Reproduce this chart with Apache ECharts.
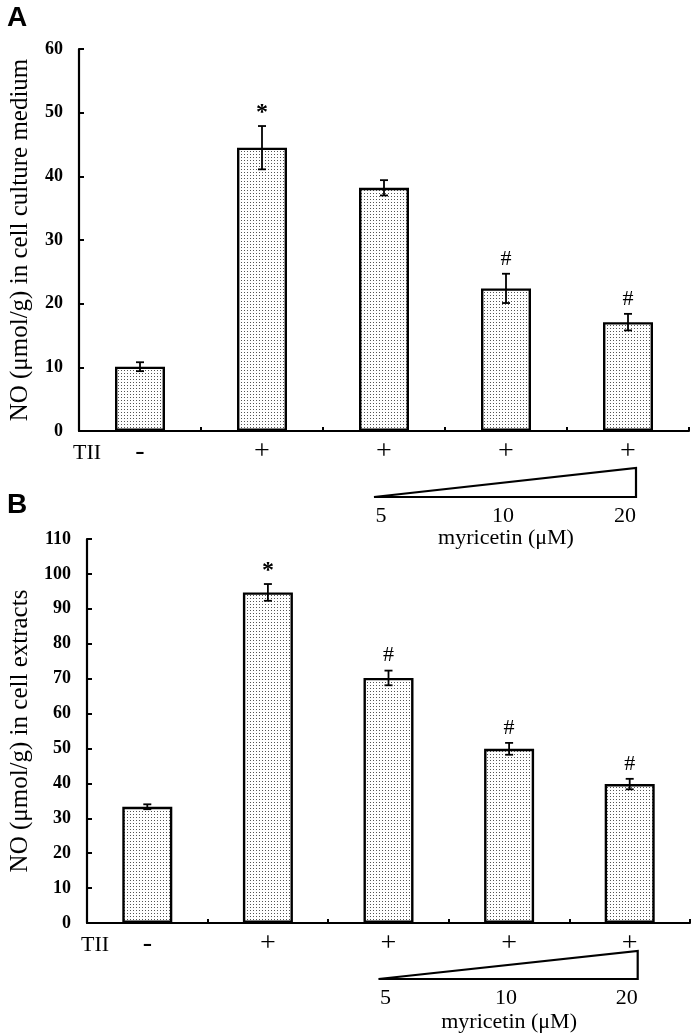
<!DOCTYPE html>
<html>
<head>
<meta charset="utf-8">
<script src="https://cdn.jsdelivr.net/npm/echarts@6/dist/echarts.min.js"></script>
<style>
html,body{margin:0;padding:0;background:#fff;}
#chart{width:693px;height:1033px;}
</style>
</head>
<body>
<div id="chart"></div>
<script>
const categories = ['c1', 'c2', 'c3', 'c4', 'c5'];
const tiiLabels = ['-', '+', '+', '+', '+'];
const doseLabels = ['', '', '5', '10', '20'];

const valuesA = [10.1, 44.5, 38.2, 22.4, 17.1];
const errorsA = [0.7, 3.4, 1.2, 2.3, 1.3];
const marksA = ['', '*', '', '#', '#'];

const valuesB = [33.3, 94.7, 70.2, 49.9, 39.8];
const errorsB = [0.7, 2.4, 2.1, 1.7, 1.5];
const marksB = ['', '*', '#', '#', '#'];

const yMaxA = 60, yMaxB = 110, yStep = 10;
const yNameA = 'NO (μmol/g) in cell culture medium';
const yNameB = 'NO (μmol/g) in cell extracts';

const SERIF = "'Liberation Serif', 'Times New Roman', serif";

// stipple pattern
const pc = document.createElement('canvas');
pc.width = 3; pc.height = 3;
const pctx = pc.getContext('2d');
pctx.fillStyle = '#ffffff'; pctx.fillRect(0, 0, 3, 3);
pctx.fillStyle = '#555555'; pctx.fillRect(1, 1, 1, 1);
const pattern = { image: pc, repeat: 'repeat' };

const chart = echarts.init(document.getElementById('chart'), null, { renderer: 'canvas' });

function xAxisCfg(gi) {
  return {
    type: 'category', gridIndex: gi, data: categories,
    axisLine: { lineStyle: { color: '#000', width: 2 } },
    axisTick: { show: true, inside: true, length: 4, lineStyle: { color: '#000', width: 2 } },
    axisLabel: { color: '#000', fontFamily: SERIF, fontSize: 28, margin: 7,
      formatter: (v, i) => tiiLabels[i] }
  };
}
function yAxisCfg(gi, max, name, gap) {
  return {
    type: 'value', gridIndex: gi, min: 0, max: max, interval: yStep,
    name: name, nameLocation: 'middle', nameGap: gap,
    nameTextStyle: { color: '#000', fontFamily: SERIF, fontSize: 25 },
    splitLine: { show: false },
    axisLine: { show: true, lineStyle: { color: '#000', width: 2.2 } },
    axisTick: { show: true, inside: true, length: 5, lineStyle: { color: '#000', width: 2 } },
    axisLabel: { color: '#000', fontFamily: SERIF, fontSize: 18, fontWeight: 'bold', margin: 16 }
  };
}
function barSeries(gi, vals) {
  return {
    type: 'bar', xAxisIndex: gi, yAxisIndex: gi, data: vals, barWidth: 50, z: 2,
    itemStyle: { color: pattern, borderColor: '#000', borderWidth: 2.4 },
    silent: true, animation: false
  };
}
function errSeries(gi, vals, errs, marks) {
  return {
    type: 'custom', xAxisIndex: gi, yAxisIndex: gi, animation: false, silent: true, z: 10,
    data: vals.map((v, i) => [i, v, errs[i]]),
    renderItem: function (params, api) {
      const i = api.value(0), v = api.value(1), e = api.value(2);
      const top = api.coord([i, v + e]);
      const bot = api.coord([i, v - e]);
      const hw = 4;
      const style = { stroke: '#000', lineWidth: 1.8 };
      const children = [
        { type: 'line', shape: { x1: top[0], y1: top[1], x2: bot[0], y2: bot[1] }, style: style },
        { type: 'line', shape: { x1: top[0] - hw, y1: top[1], x2: top[0] + hw, y2: top[1] }, style: style },
        { type: 'line', shape: { x1: bot[0] - hw, y1: bot[1], x2: bot[0] + hw, y2: bot[1] }, style: style }
      ];
      const m = marks[i];
      if (m) {
        children.push({ type: 'text', x: top[0], y: m === '*' ? top[1] - 1 : top[1] - 4,
          style: { text: m, fill: '#000', fontFamily: SERIF, fontSize: m === '*' ? 24 : 22,
            fontWeight: m === '*' ? 'bold' : 'normal', align: 'center', verticalAlign: 'bottom' } });
      }
      return { type: 'group', children: children };
    }
  };
}

chart.setOption({
  animation: false,
  backgroundColor: '#fff',
  grid: [
    { left: 73, right: 4, top: 49, height: 382 },
    { left: 81, right: 3, top: 539, height: 384 }
  ],
  xAxis: [xAxisCfg(0), xAxisCfg(1)],
  yAxis: [yAxisCfg(0, yMaxA, yNameA, 46), yAxisCfg(1, yMaxB, yNameB, 54)],
  series: [
    barSeries(0, valuesA), errSeries(0, valuesA, errorsA, marksA),
    barSeries(1, valuesB), errSeries(1, valuesB, errorsB, marksB)
  ]
});

function annotations(gi, letterY, triBot, triTop, doseY, myrY) {
  const c = categories.map((k, i) => chart.convertToPixel({ gridIndex: gi }, [i, 0]));
  const y0 = c[0][1];
  const els = [];
  const left = c[2][0] - 10, right = c[4][0] + 8;
  els.push({ type: 'polygon', shape: { points: [[left, y0 + triBot], [right, y0 + triTop], [right, y0 + triBot]] },
    style: { fill: '#fff', stroke: '#000', lineWidth: 2.2 } });
  doseLabels.forEach((d, i) => {
    if (!d) return;
    els.push({ type: 'text', x: c[i][0] - 3, y: y0 + doseY,
      style: { text: d, fill: '#000', fontFamily: SERIF, fontSize: 22, align: 'center', verticalAlign: 'middle' } });
  });
  els.push({ type: 'text', x: c[3][0], y: y0 + myrY,
    style: { text: 'myricetin (μM)', fill: '#000', fontFamily: SERIF, fontSize: 22, align: 'center', verticalAlign: 'middle' } });
  const axisLeft = gi === 0 ? 73 : 81;
  els.push({ type: 'text', x: axisLeft + 14, y: y0 + 22,
    style: { text: 'TII', fill: '#000', fontFamily: SERIF, fontSize: 22, align: 'center', verticalAlign: 'middle' } });
  els.push({ type: 'text', x: 7, y: letterY,
    style: { text: gi === 0 ? 'A' : 'B', fill: '#000', fontFamily: "'Liberation Sans', Arial, sans-serif",
      fontSize: 28, fontWeight: 'bold', align: 'left', verticalAlign: 'middle' } });
  return els;
}

chart.setOption({
  graphic: annotations(0, 18, 66, 37, 85, 107).concat(annotations(1, 505, 56, 28, 75, 99))
});
</script>
</body>
</html>
